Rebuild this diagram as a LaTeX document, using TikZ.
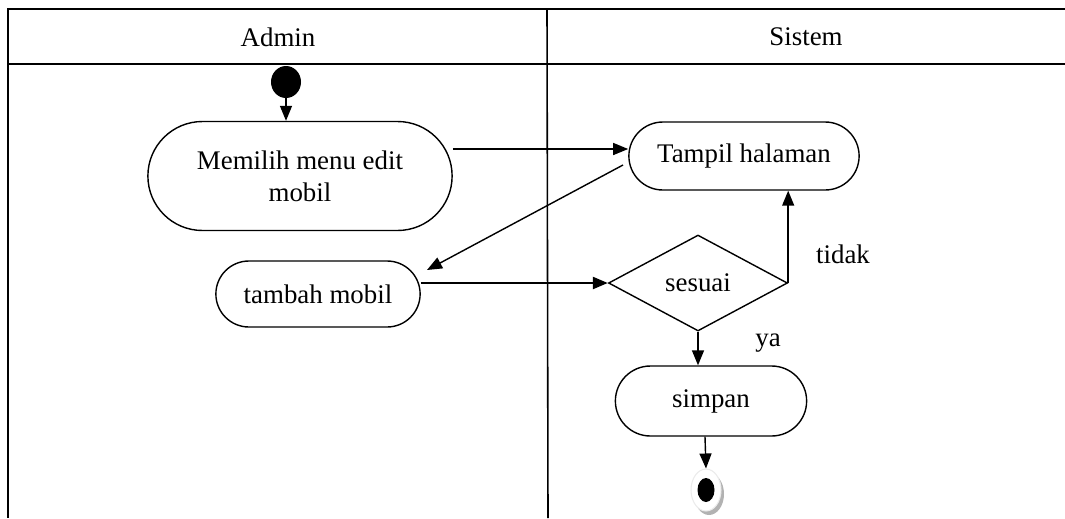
\documentclass[tikz,border=0pt]{standalone}
\usepackage{fontspec}
\setmainfont{Liberation Serif}
\usetikzlibrary{arrows.meta,shapes.geometric,shapes.misc}
\begin{document}
\begin{tikzpicture}[
    x=0.02cm, y=-0.02cm,
    lane/.style={line width=0.9pt},
    act/.style={rounded rectangle, draw, line width=0.8pt, align=center, font=\fontsize{15.3}{18}\selectfont},
    decide/.style={diamond, draw, line width=0.8pt, aspect=1.87, inner sep=0pt, font=\fontsize{15.3}{18}\selectfont},
    flow/.style={line width=0.8pt, -{Triangle[length=0.3cm,width=0.24cm]}},
    lbl/.style={font=\fontsize{15.3}{18}\selectfont}
]
    \useasboundingbox (0,0) rectangle (1065,518);

    % swimlanes
    \draw[lane] (1065,9) -- (8,9) -- (8,518);
    \draw[lane] (8,64) -- (1065,64);
    \draw[lane] (547,9) -- (548,518);
    \node[lbl] (hAdmin) at (278,37) {Admin};
    \node[lbl] (hSistem) at (806,37) {Sistem};

    % start
    \node[ellipse, fill=black, minimum width=0.6cm, minimum height=0.64cm, inner sep=0pt] (start) at (286,82) {};

    % activities
    \node[act, minimum width=6.32cm, minimum height=2.18cm] (pilih) at (300,176) {Memilih menu edit\\mobil};
    \node[act, minimum width=4.84cm, minimum height=1.36cm] (tampil) at (744,156) {Tampil halaman};
    \node[act, minimum width=4.32cm, minimum height=1.32cm] (tambah) at (318,294) {tambah mobil};
    \node[decide, minimum width=3.58cm, minimum height=1.92cm] (sesuai) at (698,283) {sesuai};
    \node[act, minimum width=4.06cm, minimum height=1.4cm] (simpan) at (711,401) {simpan};

    % end
    \node[ellipse, fill=black!30, minimum width=0.6cm, minimum height=0.84cm, inner sep=0pt] (endsh) at (709,494) {};
    \node[ellipse, draw=black!8, fill=white, line width=0.6pt, minimum width=0.6cm, minimum height=0.84cm, inner sep=0pt] (endring) at (706,490) {};
    \node[ellipse, fill=black, minimum width=0.34cm, minimum height=0.48cm, inner sep=0pt] (stop) at (706,490) {};

    % flows
    \draw[flow] (start) -- (start |- pilih.north);
    \draw[flow] (pilih.east |- 0,149) -- (tampil.west |- 0,149);
    \draw[flow] (623,165) -- (427,270);
    \draw[flow, line width=1.3pt] (tambah.east |- sesuai.west) -- (sesuai.west);
    \draw[flow] (sesuai.east) -- (sesuai.east |- tampil.south);
    \draw[flow] (sesuai.south) -- (sesuai.south |- simpan.north);
    \draw[flow] (simpan.south -| 705,0) -- (endring.north);

    \node[lbl] (tidak) at (843,254) {tidak};
    \node[lbl] (ya) at (768,343) {ya};
\end{tikzpicture}
\end{document}
